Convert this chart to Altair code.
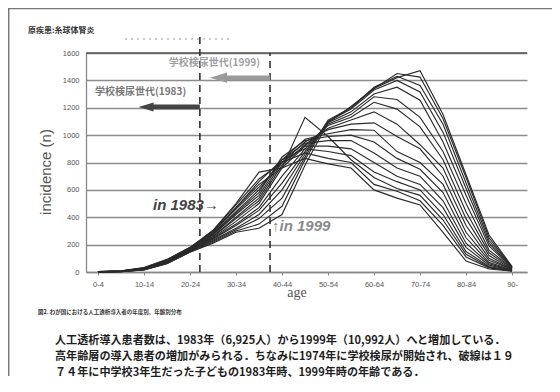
import altair as alt
import pandas as pd

age_groups = ["0-4", "5-9", "10-14", "15-19", "20-24", "25-29", "30-34", "35-39",
              "40-44", "45-49", "50-54", "55-59", "60-64", "65-69", "70-74",
              "75-79", "80-84", "85-89", "90-"]

y1983 = [3, 6, 28, 88, 175, 290, 470, 640, 760, 830, 790, 760, 600, 540, 490, 290, 80, 22, 6]
y1984 = [3, 7, 30, 90, 180, 300, 490, 680, 800, 870, 830, 800, 640, 590, 520, 340, 110, 30, 8]
y1985 = [2, 8, 32, 92, 178, 305, 500, 730, 760, 1130, 990, 820, 690, 610, 560, 380, 130, 35, 8]
y1986 = [3, 6, 27, 85, 172, 295, 470, 660, 820, 900, 880, 850, 730, 660, 600, 420, 150, 40, 10]
y1987 = [2, 7, 29, 88, 176, 288, 460, 620, 800, 920, 920, 900, 800, 700, 640, 470, 180, 50, 12]
y1988 = [3, 6, 26, 82, 170, 280, 440, 600, 820, 940, 960, 960, 870, 760, 700, 520, 210, 60, 12]
y1989 = [2, 5, 25, 80, 168, 275, 430, 580, 840, 960, 990, 1000, 950, 830, 750, 580, 250, 70, 15]
y1990 = [2, 6, 24, 78, 165, 270, 420, 560, 820, 970, 1010, 1040, 1036, 880, 800, 640, 290, 85, 18]
y1991 = [2, 5, 22, 76, 162, 262, 400, 540, 800, 950, 1040, 1080, 1090, 990, 900, 700, 340, 100, 20]
y1992 = [2, 5, 22, 74, 160, 258, 390, 520, 780, 930, 1050, 1110, 1170, 1080, 930, 760, 390, 120, 22]
y1993 = [1, 4, 20, 72, 158, 250, 370, 500, 760, 920, 1070, 1130, 1240, 1190, 1060, 820, 440, 140, 25]
y1994 = [1, 4, 20, 70, 155, 245, 350, 470, 700, 900, 1080, 1150, 1280, 1260, 1130, 880, 500, 160, 28]
y1995 = [1, 4, 18, 68, 152, 240, 340, 450, 650, 880, 1090, 1170, 1300, 1350, 1255, 950, 560, 190, 30]
y1996 = [1, 3, 18, 66, 150, 232, 320, 420, 600, 860, 1100, 1190, 1330, 1400, 1315, 1020, 610, 210, 32]
y1997 = [1, 3, 17, 64, 148, 225, 310, 390, 540, 840, 1110, 1200, 1350, 1430, 1363, 1080, 650, 230, 35]
y1998 = [1, 3, 16, 62, 146, 218, 300, 350, 480, 820, 1100, 1200, 1340, 1450, 1424, 1120, 690, 250, 38]
y1999 = [1, 3, 15, 60, 145, 210, 290, 320, 420, 780, 1090, 1210, 1340, 1420, 1470, 1150, 710, 270, 40]

years = list(range(1983, 2000))
series = [y1983, y1984, y1985, y1986, y1987, y1988, y1989, y1990, y1991,
          y1992, y1993, y1994, y1995, y1996, y1997, y1998, y1999]

y_ticks = [0, 200, 400, 600, 800, 1000, 1200, 1400, 1600]
x_label_idx = list(range(0, 19, 2))

# age of 1974 junior-high 3rd graders, on the category axis
dash_1983 = 4.43
dash_1999 = 7.48

rows = []
for yr, vals in zip(years, series):
    for i, v in enumerate(vals):
        rows.append({"year": yr, "idx": i, "age": age_groups[i], "n": v})
df = pd.DataFrame(rows)

label_expr = "[" + ",".join("'%s'" % a for a in age_groups) + "][datum.value]"

xs = alt.Scale(domain=[-0.52, 18.65], nice=False, zero=False)
ys = alt.Scale(domain=[0, 1600], nice=False)

x_axis = alt.Axis(values=x_label_idx, labelExpr=label_expr, title=None, grid=False,
                  domainColor="#888", domainWidth=1.3, tickColor="#888", tickSize=3,
                  labelFontSize=7.5, labelColor="#555", labelPadding=5,
                  labelOverlap=False, labelFont="Liberation Sans")
y_axis = alt.Axis(values=y_ticks, format="d", title=None, grid=True, gridColor="#8c8c8c",
                  gridWidth=1.3, domainColor="#888", domainWidth=1.3, ticks=False,
                  labelFontSize=7.5, labelColor="#555", labelPadding=7,
                  labelOverlap=False, labelFont="Liberation Sans")

lines = alt.Chart(df).mark_line(color="#2b2b2b", strokeWidth=1.15).encode(
    x=alt.X("idx:Q", scale=xs, axis=x_axis),
    y=alt.Y("n:Q", scale=ys, axis=y_axis),
    detail="year:N",
)

top_rule = alt.Chart(pd.DataFrame({"v": [1600]})).mark_rule(color="#555", strokeWidth=1.5).encode(
    y=alt.Y("v:Q", scale=ys, axis=y_axis))

def xd(v):
    return alt.XDatum(v, axis=x_axis)

def yd(v):
    return alt.YDatum(v, axis=y_axis)

dash1 = alt.Chart().mark_rule(color="#333", strokeWidth=1.6, strokeDash=[7, 5]).encode(
    x=xd(dash_1983), y=yd(0), y2=alt.datum(1720))
dash2 = alt.Chart().mark_rule(color="#333", strokeWidth=1.6, strokeDash=[7, 5]).encode(
    x=xd(dash_1999), y=yd(0), y2=alt.datum(1600))

tri = "M -1 0 L 1 -0.6 L 1 0.6 Z"
arrow99 = alt.Chart().mark_rule(color="#9a9a9a", strokeWidth=4.5).encode(
    x=xd(5.6), x2=alt.datum(dash_1999), y=yd(1420))
head99 = alt.Chart().mark_point(shape=tri, size=289, filled=True, color="#9a9a9a", opacity=1,
                                strokeWidth=0).encode(x=xd(5.24), y=yd(1420))
arrow83 = alt.Chart().mark_rule(color="#444", strokeWidth=5).encode(
    x=xd(2.35), x2=alt.datum(dash_1983), y=yd(1205))
head83 = alt.Chart().mark_point(shape=tri, size=225, filled=True, color="#444", opacity=1,
                                strokeWidth=0).encode(x=xd(2.09), y=yd(1205))

dotted = alt.Chart().mark_rule(color="#999", strokeWidth=1, strokeDash=[2, 4]).encode(
    x=alt.value(39), x2=alt.value(146), y=alt.value(-14))

frame_top = alt.Chart().mark_rule(color="#777", strokeWidth=1.5).encode(
    x=alt.value(-78), x2=alt.value(466), y=alt.value(-44.5))
frame_left = alt.Chart().mark_rule(color="#777", strokeWidth=1.5).encode(
    x=alt.value(-77.3), y=alt.value(-45), y2=alt.value(323))

def txt(s, x, y, size, color="#222", weight="normal", font="Noto Sans CJK JP",
        align="left", style="normal", angle=0):
    kw = dict(text=s, fontSize=size, color=color, fontWeight=weight, font=font,
              align=align, baseline="middle", fontStyle=style)
    if angle:
        kw["angle"] = angle
    return alt.Chart().mark_text(**kw).encode(x=alt.value(x), y=alt.value(y))

texts = [
    txt("原疾患:糸球体腎炎", -58, -22, 8, "#333", "bold"),
    txt("学校検尿世代(1999)", 174, 10, 10, "#a0a0a0", "bold", align="right"),
    txt("学校検尿世代(1983)", 9, 39, 10, "#777", "bold"),
    txt("in 1983→", 67, 152, 15, "#444", "bold", "Liberation Sans", style="italic"),
    txt("↑in 1999", 186, 173, 15, "#8a8a8a", "bold", "Liberation Sans", style="italic"),
    txt("age", 211, 240, 14, "#555", "normal", "Liberation Serif", align="center"),
    txt("incidence (n)", -40, 119, 15, "#555", "normal", "Liberation Sans", align="center", angle=270),
    txt("図2. わが国における人工透析導入者の年度別、年齢別分布", -48, 259, 5.5, "#333", "bold"),
    txt("人工透析導入患者数は、1983年（6,925人）から1999年（10,992人）へと増加している．",
        -31, 288, 11.1, "#1e1e1e", "bold"),
    txt("高年齢層の導入患者の増加がみられる．ちなみに1974年に学校検尿が開始され、破線は１９",
        -31, 304, 11.1, "#1e1e1e", "bold"),
    txt("７４年に中学校3年生だった子どもの1983年時、1999年時の年齢である．",
        -31, 320, 11.1, "#1e1e1e", "bold"),
]

chart = alt.layer(
    lines, top_rule, dash1, dash2, arrow99, head99, arrow83, head83, dotted,
    frame_top, frame_left, *texts
).properties(
    width=441, height=219,
    padding={"left": 78, "top": 45, "right": 25, "bottom": 112},
    autosize="none", background="white",
).configure_view(stroke=None)

chart.save("out.html", embed_options={"renderer": "svg", "actions": False})
